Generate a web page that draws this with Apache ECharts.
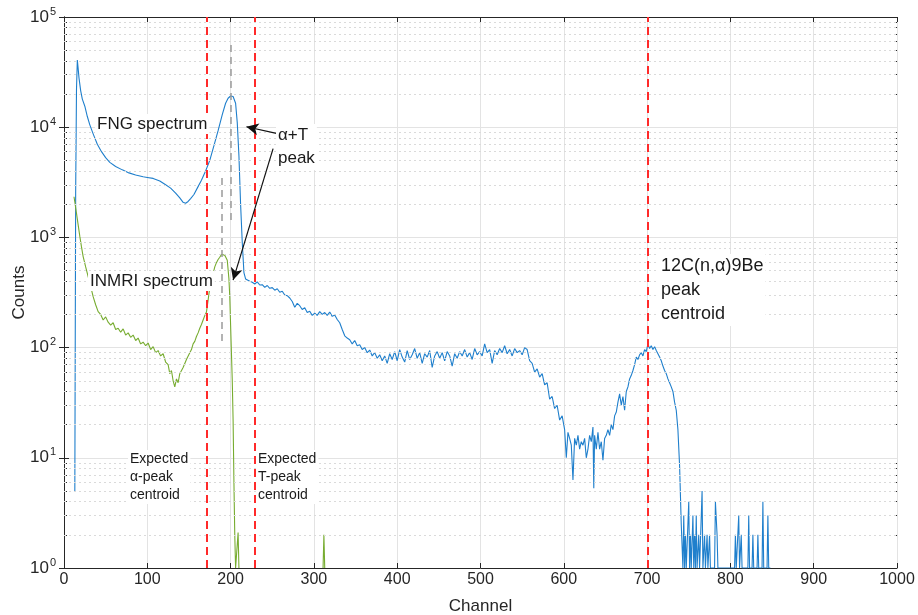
<!DOCTYPE html>
<html>
<head>
<meta charset="utf-8">
<script src="https://cdn.jsdelivr.net/npm/echarts@6/dist/echarts.min.js"></script>
<style>
  html, body { margin: 0; padding: 0; background: #fff; }
  #chart { width: 918px; height: 615px; }
</style>
</head>
<body>
<div id="chart"></div>
<script>
// FNG spectrum, [channel, counts]
const fngData = [
  [13, 5], [14, 2500], [15, 22000], [16, 40700], [17, 34000], [18, 28000], [20, 21500], [22, 18000],
  [25, 15500], [28, 12500], [31, 10500], [35, 8700], [40, 7000], [45, 6000], [50, 5300], [55, 4800],
  [62, 4400], [70, 4100], [78, 3850], [86, 3680], [95, 3550], [100, 3500], [107, 3430], [115, 3250],
  [122, 3000], [128, 2800], [134, 2520], [139, 2280], [143, 2080], [146, 2040], [149, 2120], [152, 2250],
  [156, 2450], [160, 2800], [165, 3300], [170, 4000], [175, 5000], [180, 6800], [185, 9300], [190, 13000],
  [194, 16500], [197, 18300], [200, 19200], [203, 19000], [206, 16500], [208, 11000], [210, 5500], [212, 2000],
  [214, 900], [216, 480], [218, 420], [220, 410], [223, 400],
  [226, 392], [229, 378], [232, 395], [235, 370], [238, 372], [241, 352], [244, 366], [247, 345],
  [250, 350], [253, 332], [256, 342], [259, 318], [262, 325], [265, 300], [268, 296], [271, 282],
  [274, 262], [277, 232], [280, 252], [283, 240], [286, 222], [289, 230], [292, 208], [295, 214],
  [298, 196], [301, 205], [304, 196], [307, 212], [310, 200], [313, 208], [316, 196], [319, 210],
  [322, 192], [325, 198], [328, 180], [331, 168], [334, 146], [337, 128], [340, 122], [343, 118],
  [346, 108], [349, 116], [352, 104], [355, 106], [358, 96], [361, 100], [364, 90], [367, 95],
  [370, 84], [373, 90], [376, 80], [379, 86], [382, 76], [385, 84], [388, 72], [391, 88],
  [394, 78], [397, 92], [400, 76], [403, 96], [406, 82], [409, 74], [412, 94], [415, 78],
  [418, 86], [421, 98], [424, 80], [427, 90], [430, 72], [433, 88], [436, 82], [439, 94],
  [442, 66], [445, 84], [448, 92], [451, 80], [454, 90], [457, 76], [460, 92], [463, 84],
  [466, 68], [469, 88], [472, 80], [475, 92], [478, 84], [481, 96], [484, 82], [487, 90],
  [490, 78], [493, 98], [496, 86], [499, 92], [502, 84], [505, 108], [508, 90], [511, 96],
  [514, 72], [517, 94], [520, 86], [523, 98], [526, 90], [529, 104], [532, 88], [535, 96],
  [538, 84], [541, 98], [544, 90], [547, 94], [550, 86], [553, 100], [556, 96], [559, 76],
  [562, 72], [565, 60], [568, 64], [571, 54], [574, 58], [577, 46], [580, 48], [583, 34],
  [586, 36], [589, 28], [592, 30], [595, 22], [598, 24], [601, 18], [603, 10], [605, 17],
  [607, 15], [609, 13], [611, 6.3], [613, 15], [615, 13], [617, 16], [619, 12], [621, 14],
  [623, 13], [625, 15], [627, 10], [629, 12], [631, 16], [633, 14], [635, 19], [636, 5.3],
  [637, 16], [639, 12], [641, 17], [643, 12], [645, 14], [647, 9.5], [649, 15], [651, 16],
  [653, 18], [655, 16], [657, 20], [659, 18], [661, 24], [663, 26], [665, 32], [667, 38],
  [669, 30], [671, 36], [673, 27], [675, 40], [677, 44], [679, 52], [681, 56], [683, 62],
  [685, 70], [687, 82], [689, 78], [691, 86], [693, 90], [695, 84], [697, 96], [699, 92],
  [701, 108], [703, 98], [705, 104], [707, 96], [709, 102], [711, 94], [713, 88], [715, 82],
  [717, 76], [719, 68], [721, 62], [723, 58], [725, 52], [727, 48], [729, 44], [731, 40],
  [733, 32], [735, 27], [737, 18], [739, 8.5], [741, 2.5], [743, 1],
  [744, 3], [745, 1], [746, 2], [747, 1], [749, 1], [750, 4], [751, 1], [752, 2],
  [753, 1], [754, 1], [755, 3], [756, 1], [757, 2], [758, 1], [759, 3], [760, 1],
  [761, 1], [762, 2], [763, 1], [765, 1], [766, 5], [767, 1], [768, 1], [769, 2],
  [770, 1], [771, 1], [772, 2], [773, 1], [774, 1], [775, 2], [776, 1], [781, 1],
  [782, 4], [784, 2], [785, 1], [805, 1], [806, 2], [807, 1], [809, 1], [810, 3],
  [811, 1], [812, 1], [813, 2], [814, 1], [821, 1], [822, 3], [823, 1], [826, 1],
  [827, 2], [828, 1], [832, 1], [833, 2], [834, 1], [838, 1], [839, 4], [840, 1],
  [844, 1], [845, 3], [846, 1], [848, 1]
];

// INMRI spectrum, [channel, counts]
const inmriData = [
  [12, 2340], [13, 2100], [15, 1650], [17, 1300], [19, 1020], [21, 820], [23, 670], [26, 540],
  [29, 440], [32, 360], [35, 290], [38, 245], [41, 212], [44, 200], [47, 178], [50, 190],
  [53, 170], [56, 160], [59, 168], [62, 146], [65, 150], [68, 138], [71, 148], [74, 130],
  [77, 136], [80, 124], [83, 130], [86, 116], [89, 122], [92, 108], [95, 112], [98, 104],
  [101, 110], [104, 96], [107, 102], [110, 90], [113, 94], [116, 84], [119, 88], [122, 74],
  [125, 70], [127, 58], [129, 62], [131, 50], [133, 44], [135, 52], [137, 48], [139, 58],
  [141, 56], [143, 66], [145, 64], [147, 78], [149, 76], [151, 90], [153, 96], [155, 108],
  [157, 114], [159, 126], [161, 136], [163, 150], [165, 162], [167, 178], [169, 195], [171, 210],
  [173, 270], [175, 350], [177, 410], [179, 470], [181, 540], [183, 590], [185, 630], [187, 660],
  [189, 700], [191, 720], [193, 690], [195, 700], [196, 620], [198, 420], [199, 290], [200, 160],
  [201, 90], [202, 50], [203, 22], [204, 6], [205, 2], [206, 1], [208, 1], [209, 2.1],
  [210, 1], [211, null], [311, 1], [312, 2], [313, 1]
];

// expected / measured centroid markers (channel)
const centroidChannels = [171, 229, 701];
// gray centroid guides: [channel, top counts, bottom counts]
const fngCentroid = [200, 55700, 1440];
const inmriCentroid = [189, 3460, 106];

const minorValues = [];
[1, 10, 100, 1000, 10000].forEach(d => {
  for (let k = 2; k <= 9; k++) minorValues.push(d * k);
});

const ink = '#262626';
const font = 'Liberation Sans, Arial, sans-serif';
const chart = echarts.init(document.getElementById('chart'));

const xBase = {
  type: 'value', min: 0, max: 1000, interval: 100,
  axisLine: { lineStyle: { color: ink } },
  axisTick: { inside: true, length: 5, lineStyle: { color: ink } },
  splitLine: { show: false }
};
const yBase = {
  type: 'log', min: 1, max: 100000, logBase: 10,
  axisLine: { show: true, lineStyle: { color: ink } },
  axisTick: { inside: true, length: 5, lineStyle: { color: ink } },
  splitLine: { show: false }
};

const note = (left, top, text, size, lh) => ({
  type: 'text', left: left, top: top, z: 100,
  style: {
    text: text, fontSize: size, lineHeight: lh, fontFamily: font, fill: '#1a1a1a',
    backgroundColor: '#fff', padding: [0, 2]
  }
});

const option = {
  animation: false,
  grid: { left: 64, right: 21, top: 17, bottom: 47, containLabel: false, outerBoundsMode: 'none' },
  xAxis: [
    Object.assign({}, xBase, {
      position: 'bottom',
      name: 'Channel', nameLocation: 'middle', nameGap: 30,
      nameTextStyle: { color: ink, fontSize: 17, fontFamily: font },
      axisLabel: { color: ink, fontSize: 16, fontFamily: font, margin: 4, formatter: v => String(v) },
      splitLine: { show: true, lineStyle: { color: '#e3e3e3', width: 1 } }
    }),
    Object.assign({}, xBase, { position: 'top', axisLabel: { show: false } })
  ],
  yAxis: [
    Object.assign({}, yBase, {
      position: 'left',
      name: 'Counts', nameLocation: 'middle', nameGap: 36, nameMoveOverlap: false,
      nameTextStyle: { color: ink, fontSize: 17, fontFamily: font },
      axisLabel: {
        color: ink, margin: 8,
        formatter: v => '{b|10}{s|' + Math.round(Math.log10(v)) + '}',
        rich: {
          b: { fontSize: 17, fontFamily: font, color: ink },
          s: { fontSize: 11, fontFamily: font, color: ink, padding: [0, 0, 11, 1] }
        }
      },
      splitLine: { show: true, lineStyle: { color: '#e3e3e3', width: 1 } }
    }),
    Object.assign({}, yBase, { position: 'right', axisLabel: { show: false } }),
    Object.assign({}, yBase, {
      position: 'left', axisLine: { show: false }, axisLabel: { show: false },
      axisTick: { inside: true, length: 3, customValues: minorValues, lineStyle: { color: ink } }
    }),
    Object.assign({}, yBase, {
      position: 'right', axisLine: { show: false }, axisLabel: { show: false },
      axisTick: { inside: true, length: 3, customValues: minorValues, lineStyle: { color: ink } }
    })
  ],
  series: [
    {
      // minor decade grid
      type: 'line', data: [], silent: true,
      markLine: {
        silent: true, symbol: 'none', label: { show: false },
        lineStyle: { color: '#dadada', width: 1, type: [2, 3] },
        data: minorValues.map(v => ({ yAxis: v }))
      }
    },
    {
      name: 'FNG', type: 'line', data: fngData, showSymbol: false,
      lineStyle: { color: '#1f7fcc', width: 1.1 }, z: 3,
      markLine: {
        silent: true, symbol: 'none', label: { show: false },
        data: [
          [{ coord: [fngCentroid[0], fngCentroid[1]] }, { coord: [fngCentroid[0], fngCentroid[2]] }],
          [{ coord: [inmriCentroid[0], inmriCentroid[1]] }, { coord: [inmriCentroid[0], inmriCentroid[2]] }]
        ],
        lineStyle: { color: '#9a9a9a', width: 1.5, type: [7, 5] }
      }
    },
    {
      name: 'INMRI', type: 'line', data: inmriData, showSymbol: false, connectNulls: false,
      lineStyle: { color: '#77ac30', width: 1.1 }, z: 3,
      markLine: {
        silent: true, symbol: 'none', label: { show: false },
        lineStyle: { color: '#ff2a2a', width: 2, type: [8, 5] },
        data: centroidChannels.map(c => ({ xAxis: c }))
      }
    },
    {
      // arrows pointing at the alpha+T peaks
      type: 'line', data: [], silent: true, z: 5,
      markLine: {
        silent: true, symbol: ['none', 'arrow'], symbolSize: [9, 12], label: { show: false },
        lineStyle: { color: '#111', width: 1.2, type: 'solid' },
        data: [
          [{ coord: [255, 8800] }, { coord: [219, 10100] }],
          [{ coord: [251, 6400] }, { coord: [203, 410] }]
        ]
      }
    }
  ],
  graphic: [
    note(95, 114, 'FNG spectrum', 17, 20),
    note(88, 271, 'INMRI spectrum', 17, 20),
    note(276, 124, 'α+T\npeak', 17, 23),
    note(659, 254, '12C(n,α)9Be\npeak\ncentroid', 18, 24),
    note(128, 450, 'Expected\nα-peak\ncentroid', 14, 18),
    note(256, 450, 'Expected\nT-peak\ncentroid', 14, 18)
  ]
};

chart.setOption(option);
</script>
</body>
</html>
